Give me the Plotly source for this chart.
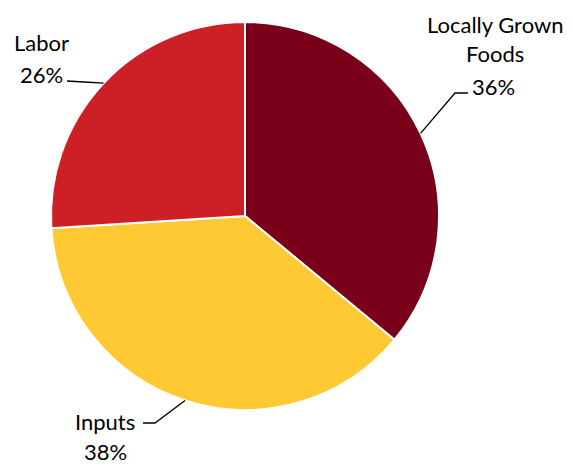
import math
import plotly.graph_objects as go

categories = ["Locally Grown Foods", "Inputs", "Labor"]
values = [36, 38, 26]
colors = ["#7A0019", "#FFC933", "#CD1F26"]

W, H = 573, 465
CX, CY, R = 245, 216, 194  # pie centre and radius in pixels

def px(x, y):
    return x / W, 1 - y / H

fig = go.Figure(go.Pie(
    labels=categories, values=values, sort=False, direction="clockwise",
    rotation=0, textinfo="none", hoverinfo="label+percent",
    marker=dict(colors=colors, line=dict(color="white", width=2)),
    domain=dict(x=[(CX - R) / W, (CX + R) / W], y=[1 - (CY + R) / H, 1 - (CY - R) / H]),
    showlegend=False,
))

# anchor points on the pie edge at each slice's mid angle
total = sum(values)
anchors = []
cum = 0
for v in values:
    mid = (cum + v / 2) / total * 2 * math.pi
    anchors.append((CX + R * math.sin(mid), CY - R * math.cos(mid)))
    cum += v

# leader line elbows / ends (label layout offsets)
leaders = [
    [(455, 93), (468, 93)],
    [(155, 423), (143, 423)],
    [(84, 82), (67, 81)],
]
shapes = []
for (ax, ay), pts in zip(anchors, leaders):
    path_pts = [(ax, ay)] + pts
    d = ""
    for i, (x, y) in enumerate(path_pts):
        X, Y = px(x, y)
        d += ("M" if i == 0 else " L") + f" {X:.5f},{Y:.5f}"
    shapes.append(dict(type="path", path=d, xref="paper", yref="paper",
                       line=dict(color="black", width=1.3)))

pct = [f"{round(v / total * 100)}%" for v in values]
label_lines = [
    [("Locally Grown", 495, 24), ("Foods", 495, 54), (pct[0], 493, 86)],
    [("Inputs", 105, 421), (pct[1], 105, 451)],
    [("Labor", 41, 42), (pct[2], 41, 74)],
]
annotations = []
for lines in label_lines:
    for text, x, y in lines:
        X, Y = px(x, y)
        annotations.append(dict(text=text, x=X, y=Y, xref="paper", yref="paper",
                                showarrow=False, xanchor="center", yanchor="middle",
                                font=dict(family="Lato", size=22, color="black")))

fig.update_layout(
    width=W, height=H, margin=dict(l=0, r=0, t=0, b=0),
    paper_bgcolor="white", plot_bgcolor="white",
    shapes=shapes, annotations=annotations,
)

fig.write_html("out.html", config={"displayModeBar": False},
               post_script="document.body.style.margin='0';")
